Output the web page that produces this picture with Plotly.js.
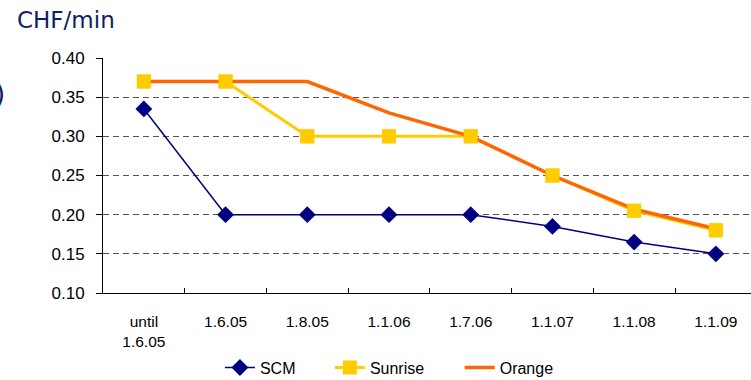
<!DOCTYPE html>
<html>
<head>
<meta charset="utf-8">
<script src="https://cdn.plot.ly/plotly-3.0.1.min.js"></script>
<style>html,body{margin:0;padding:0;overflow:hidden;background:#fff;}</style>
</head>
<body>
<div id="chart" style="width:751px;height:380px;"></div>
<script>
var categories = ["until<br>1.6.05", "1.6.05", "1.8.05", "1.1.06", "1.7.06", "1.1.07", "1.1.08", "1.1.09"];
var scm = [0.335, 0.20, 0.20, 0.20, 0.20, 0.185, 0.165, 0.15];
var sunrise = [0.37, 0.37, 0.30, 0.30, 0.30, 0.25, 0.205, 0.18];
var orange = [0.37, 0.37, 0.37, 0.33, 0.30, 0.25, 0.207, 0.182];
var yTicks = [0.10, 0.15, 0.20, 0.25, 0.30, 0.35, 0.40];

var navy = "#000080", yellow = "#FFCC00", orng = "#FF6600";

var traces = [
  {x: categories, y: scm, name: "SCM", type: "scatter", mode: "lines+markers",
   line: {color: navy, width: 1.5}, marker: {symbol: "diamond", size: 13, color: navy},
   legend: "legend"},
  {x: categories, y: sunrise, name: "Sunrise", type: "scatter", mode: "lines+markers",
   line: {color: yellow, width: 3}, marker: {symbol: "square", size: 14, color: yellow},
   legend: "legend2"},
  {x: categories, y: orange, name: "Orange", type: "scatter", mode: "lines",
   line: {color: orng, width: 3.5}, legend: "legend3"},
  {x: categories, y: sunrise, name: "Sunrise", type: "scatter", mode: "markers",
   marker: {symbol: "square", size: 14, color: yellow}, showlegend: false, hoverinfo: "skip"}
];

var L = 103;
function px(p) { return (p - L) / 654; }
var legFont = {family: "Liberation Sans, Arial, sans-serif", size: 16, color: "#000"};
function leg(x) {
  return {orientation: "h", x: px(x), xanchor: "left", y: -0.245, yref: "paper", yanchor: "top",
          font: legFont, bgcolor: "rgba(0,0,0,0)", borderwidth: 0, itemwidth: 30};
}

var layout = {
  width: 751, height: 380,
  margin: {l: 103, r: 0, t: 58, b: 87, pad: 0, autoexpand: false},
  paper_bgcolor: "#fff", plot_bgcolor: "#fff",
  font: {family: "Liberation Sans, Arial, sans-serif", size: 15, color: "#000"},
  title: {text: "CHF/min", x: 17/751, xref: "container", xanchor: "left",
          y: 1 - 20/380, yref: "container", yanchor: "middle",
          font: {family: "DejaVu Sans, Verdana, sans-serif", size: 23, color: "#102068"}},
  xaxis: {type: "category", range: [-0.5, 7.43], showgrid: false, zeroline: false,
          showline: true, linecolor: "#000", linewidth: 1,
          ticks: "inside", tickson: "boundaries", ticklen: 5, tickcolor: "#000",
          tickfont: {size: 15.5}, ticklabelstandoff: 14},
  yaxis: {range: [0.10, 0.40], tickvals: yTicks, ticktext: yTicks.map(function(v){return v.toFixed(2);}),
          showgrid: true, gridcolor: "#555", griddash: "6px,4px", gridwidth: 1,
          zeroline: false, showline: true, linecolor: "#000", linewidth: 1,
          ticks: "outside", ticklen: 6, tickcolor: "#000", tickfont: {size: 17},
          ticklabelstandoff: 8},
  showlegend: true,
  legend: leg(221), legend2: leg(332), legend3: leg(463),
  annotations: [{text: ")", xref: "paper", yref: "paper", x: px(6), y: (293 - 94) / 235,
                 xanchor: "right", yanchor: "middle", showarrow: false,
                 font: {family: "DejaVu Sans, sans-serif", size: 26, color: "#102068"}}]
};

Plotly.newPlot("chart", traces, layout, {displayModeBar: false, staticPlot: true});
</script>
</body>
</html>
